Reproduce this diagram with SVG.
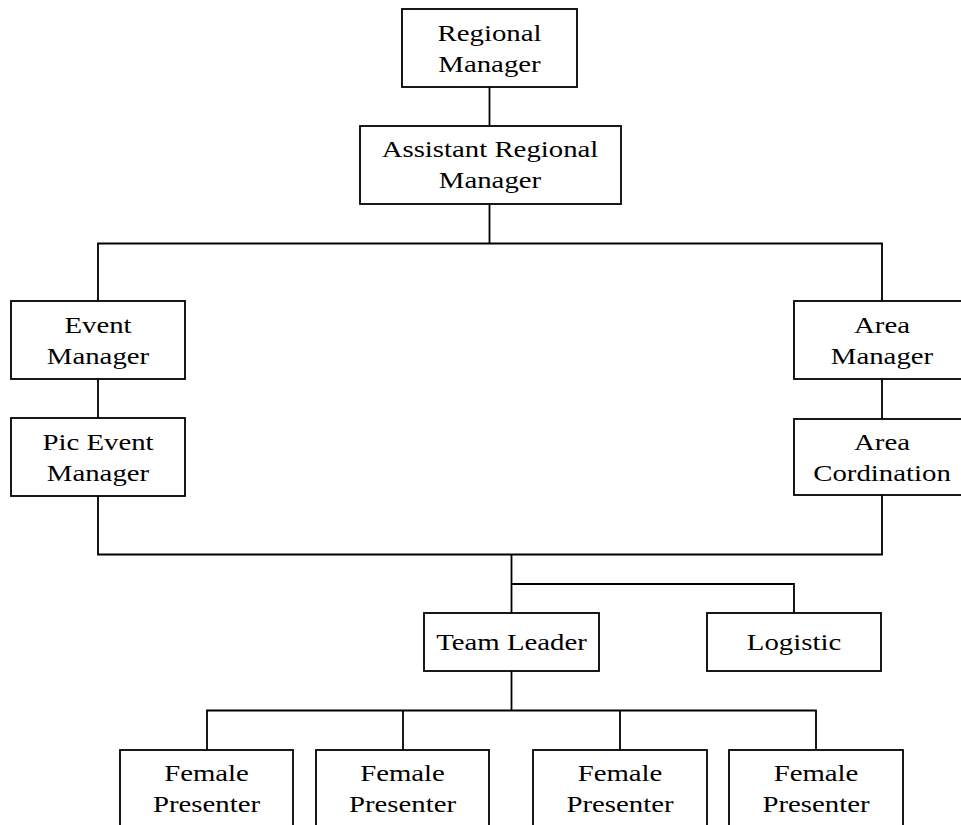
<svg xmlns="http://www.w3.org/2000/svg" width="961" height="825" viewBox="0 0 961 825">
<style>
rect.box{fill:#fff;stroke:#000;stroke-width:1.8}
.conn path{fill:none;stroke:#000;stroke-width:1.8}
text{font-family:"Liberation Serif","Times New Roman",serif;font-size:24px;fill:#000;text-anchor:middle}
</style>
<rect width="961" height="825" fill="#fff"/>
<g class="conn" id="connectors">
<path d="M489.5 87V126"/>
<path d="M489.5 204V243.5M98 301V243.5H882V301"/>
<path d="M98 379V418"/>
<path d="M882 379V419"/>
<path d="M98 496V554.5H882V495"/>
<path d="M511.5 554.5V613"/>
<path d="M511.5 584H794V613"/>
<path d="M511.5 671V710.5"/>
<path d="M207 750V710.5H816V750"/>
<path d="M403 710.5V750"/>
<path d="M620 710.5V750"/>
</g>
<g id="regional-manager">
<rect class="box" x="402" y="9" width="175" height="78"/>
<text transform="translate(489.5 41) scale(1.2 1)">Regional</text>
<text transform="translate(489.5 72) scale(1.2 1)">Manager</text>
</g>
<g id="assistant-regional-manager">
<rect class="box" x="360" y="126" width="261" height="78"/>
<text transform="translate(490 157) scale(1.2 1)">Assistant Regional</text>
<text transform="translate(490 188) scale(1.2 1)">Manager</text>
</g>
<g id="event-manager">
<rect class="box" x="11" y="301" width="174" height="78"/>
<text transform="translate(98 333) scale(1.2 1)">Event</text>
<text transform="translate(98 364) scale(1.2 1)">Manager</text>
</g>
<g id="pic-event-manager">
<rect class="box" x="11" y="418" width="174" height="78"/>
<text transform="translate(98 450) scale(1.2 1)">Pic Event</text>
<text transform="translate(98 481) scale(1.2 1)">Manager</text>
</g>
<g id="area-manager">
<rect class="box" x="794" y="301" width="176" height="78"/>
<text transform="translate(882 333) scale(1.2 1)">Area</text>
<text transform="translate(882 364) scale(1.2 1)">Manager</text>
</g>
<g id="area-cordination">
<rect class="box" x="794" y="419" width="176" height="76"/>
<text transform="translate(882 450) scale(1.2 1)">Area</text>
<text transform="translate(882 481) scale(1.2 1)">Cordination</text>
</g>
<g id="team-leader">
<rect class="box" x="424" y="613" width="175" height="58"/>
<text transform="translate(511.5 650) scale(1.2 1)">Team Leader</text>
</g>
<g id="logistic">
<rect class="box" x="707" y="613" width="174" height="58"/>
<text transform="translate(794 650) scale(1.2 1)">Logistic</text>
</g>
<g id="female-presenter-1">
<rect class="box" x="120" y="750" width="173" height="100"/>
<text transform="translate(206.5 781) scale(1.2 1)">Female</text>
<text transform="translate(206.5 812) scale(1.2 1)">Presenter</text>
</g>
<g id="female-presenter-2">
<rect class="box" x="316" y="750" width="173" height="100"/>
<text transform="translate(402.5 781) scale(1.2 1)">Female</text>
<text transform="translate(402.5 812) scale(1.2 1)">Presenter</text>
</g>
<g id="female-presenter-3">
<rect class="box" x="533" y="750" width="174" height="100"/>
<text transform="translate(620 781) scale(1.2 1)">Female</text>
<text transform="translate(620 812) scale(1.2 1)">Presenter</text>
</g>
<g id="female-presenter-4">
<rect class="box" x="729" y="750" width="174" height="100"/>
<text transform="translate(816 781) scale(1.2 1)">Female</text>
<text transform="translate(816 812) scale(1.2 1)">Presenter</text>
</g>
</svg>
